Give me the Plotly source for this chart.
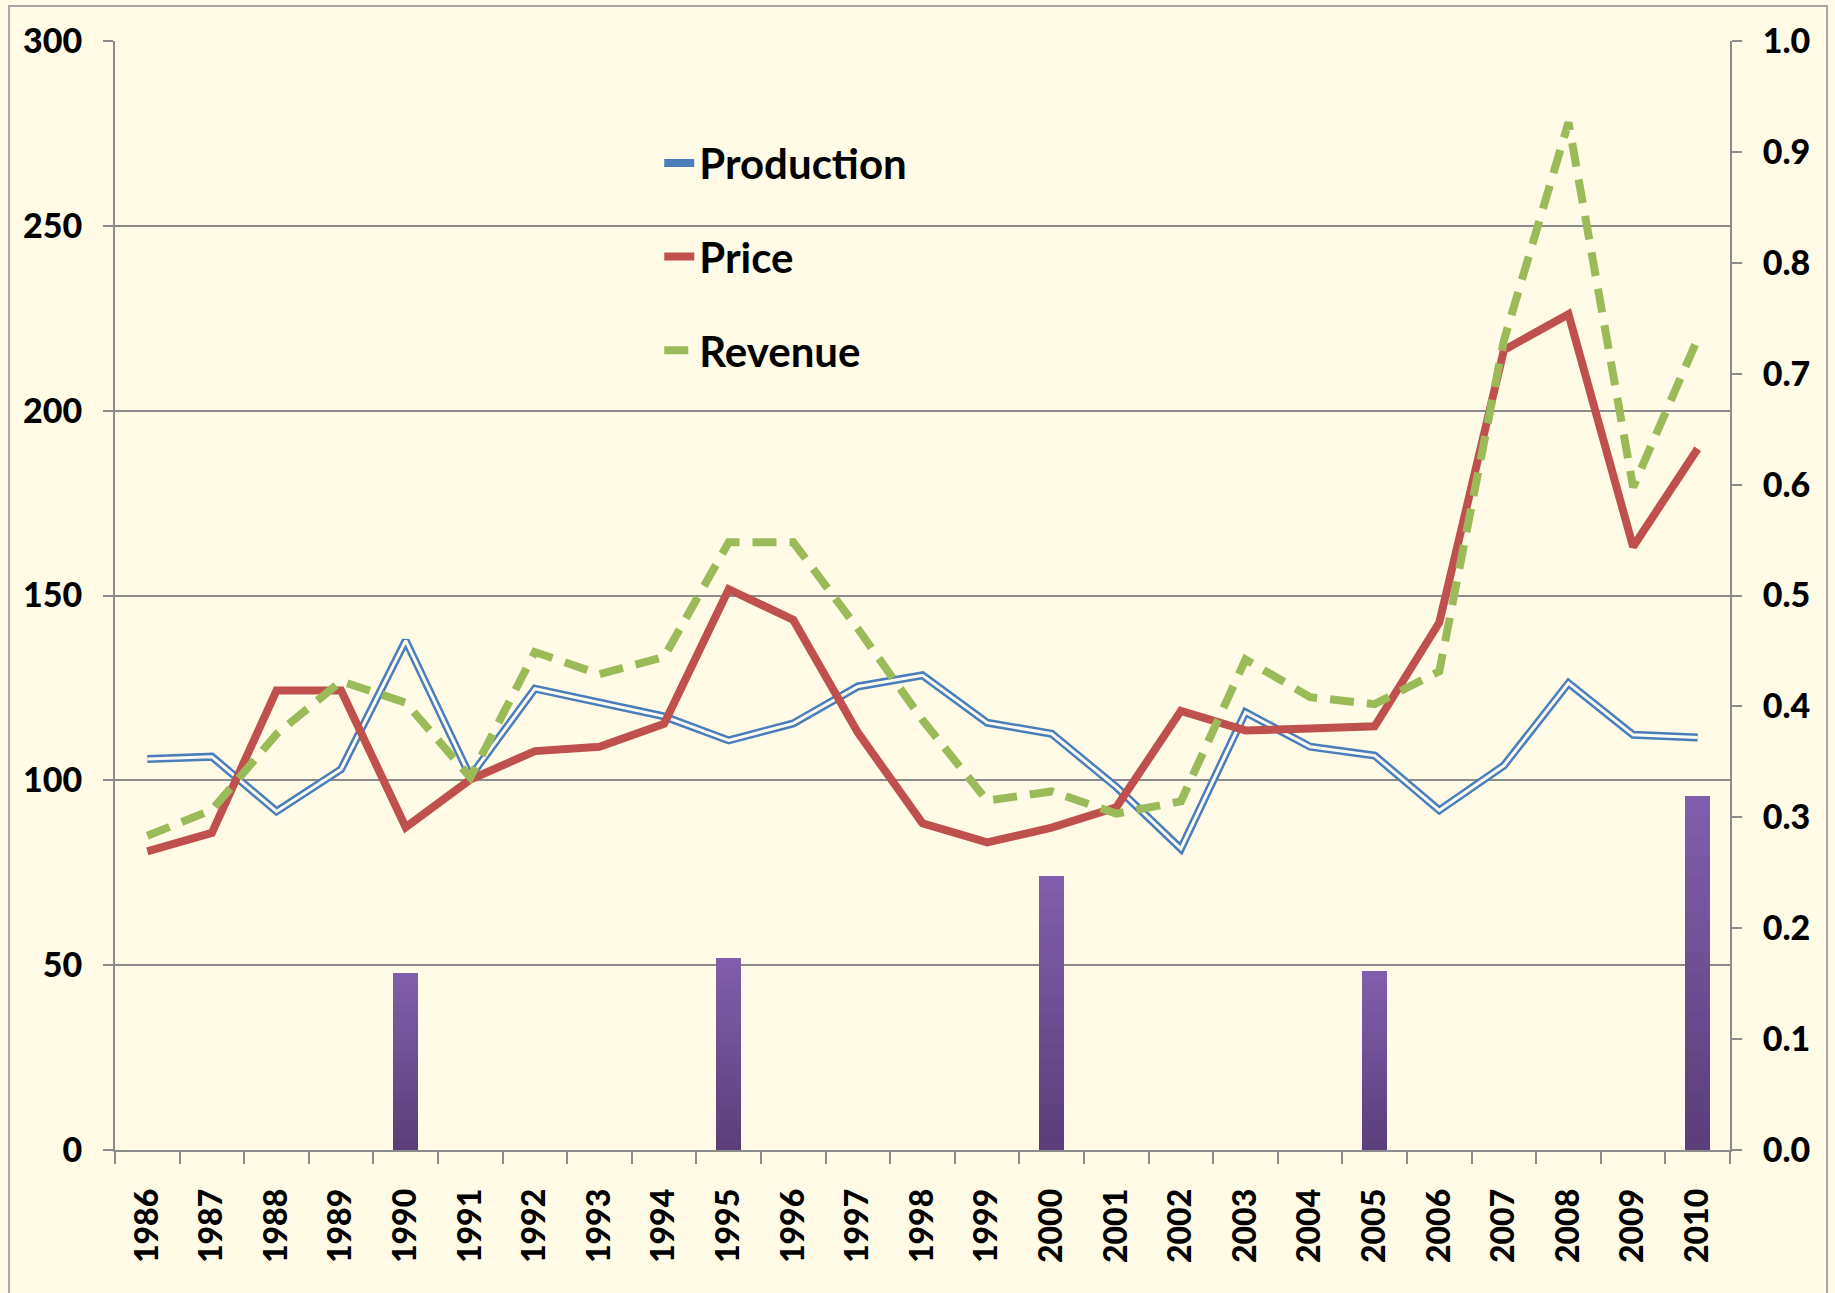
import plotly.graph_objects as go

years = [str(y) for y in range(1986, 2011)]
production = [105.8, 106.4, 91.6, 103.0, 137.8, 101.0, 124.8, 121.0, 117.3, 110.8,
              115.4, 125.4, 128.4, 115.6, 112.6, 98.2, 81.5, 118.4, 109.1, 106.7,
              91.9, 104.0, 126.3, 112.3, 111.6]
price = [80.8, 85.8, 124.3, 124.3, 87.3, 100.2, 107.9, 109.1, 115.3, 151.7,
         143.4, 112.9, 88.4, 83.2, 87.2, 92.7, 118.8, 113.5, 114.0, 114.6,
         142.7, 216.4, 226.1, 163.2, 189.7]
revenue = [85.0, 92.0, 112.5, 126.8, 121.0, 100.8, 134.7, 128.7, 133.4, 164.4,
           164.4, 141.0, 116.3, 94.5, 97.0, 91.0, 94.3, 132.7, 122.5, 120.6,
           129.5, 219.0, 278.0, 179.3, 219.5]
bar_years = ["1990", "1995", "2000", "2005", "2010"]
bar_values = [0.160, 0.173, 0.247, 0.161, 0.319]

BG = "#FFFBE6"
GRID = "#8C8C8C"
FONT = dict(family="Lato, Open Sans, sans-serif", size=34, color="#000000", weight=900)
XFONT = dict(family="Lato, Open Sans, sans-serif", size=32, color="#000000", weight=900)

fig = go.Figure()

# vertical gradient on bars (light top -> dark bottom), built by overlaying
# progressively shorter bars of the same data
top_rgb = (0x80, 0x5E, 0xAB)
bot_rgb = (0x5B, 0x3E, 0x7A)
N = 18
for k in range(N):
    frac = (N - k) / N
    t = k / (N - 1)
    c = tuple(round(top_rgb[i] + (bot_rgb[i] - top_rgb[i]) * t) for i in range(3))
    fig.add_trace(go.Bar(x=bar_years, y=[v * frac for v in bar_values], yaxis="y2",
                         width=0.39, marker=dict(color="rgb(%d,%d,%d)" % c, line=dict(width=0)),
                         showlegend=False, hoverinfo="skip" if k else None))

fig.add_trace(go.Scatter(x=years, y=production, mode="lines", name="Production",
                         legendgroup="a",
                         line=dict(color="#4A7EBB", width=8)))
fig.add_trace(go.Scatter(x=years, y=production, mode="lines", name="Production",
                         legendgroup="a", showlegend=False, hoverinfo="skip",
                         line=dict(color="#FFFDF2", width=3)))
fig.add_trace(go.Scatter(x=years, y=price, mode="lines", name="Price",
                         legendgroup="b",
                         line=dict(color="#C0504D", width=8)))
fig.add_trace(go.Scatter(x=years, y=revenue, mode="lines", name="Revenue",
                         legendgroup="c",
                         line=dict(color="#9BBB59", width=8, dash="24px,13px")))

fig.update_layout(
    width=1835, height=1293,
    margin=dict(l=115, r=105, t=41, b=143, autoexpand=False),
    paper_bgcolor=BG, plot_bgcolor=BG,
    font=FONT,
    barmode="overlay",
    bargap=0,
    xaxis=dict(type="category", categoryorder="array", categoryarray=years,
               tickson="boundaries", ticks="outside", ticklen=12, tickwidth=2,
               tickcolor=GRID, showline=True, linecolor=GRID, linewidth=2,
               showgrid=False, tickangle=-90, tickfont=XFONT, range=[-0.5, 24.5],
               ticklabelstandoff=24, automargin=False),
    yaxis=dict(range=[0, 300], tickvals=[0, 50, 100, 150, 200, 250, 300],
               showgrid=True, gridcolor=GRID, gridwidth=2,
               ticks="outside", ticklen=10, tickwidth=2, tickcolor=GRID,
               showline=True, linecolor=GRID, linewidth=2, zeroline=False,
               tickfont=FONT, ticklabelstandoff=14, automargin=False),
    yaxis2=dict(range=[0, 1], overlaying="y", side="right",
                tickvals=[i / 10 for i in range(11)], tickformat=".1f",
                showgrid=False, ticks="outside", ticklen=10, tickwidth=2,
                tickcolor=GRID, showline=True, linecolor=GRID, linewidth=2,
                zeroline=False, tickfont=FONT, ticklabelstandoff=14, automargin=False),
    legend=dict(x=0.337, y=0.9205, xanchor="left", yanchor="top",
                bgcolor="rgba(0,0,0,0)", traceorder="grouped", tracegroupgap=36,
                font=dict(family="Lato, Open Sans, sans-serif", size=42,
                          color="#000000", weight=700),
                itemwidth=30),
    shapes=[dict(type="rect", xref="paper", yref="paper",
                 x0=-0.0656, x1=1.0601, y0=-0.3, y1=1.0316,
                 line=dict(color="#A6A6A6", width=2), layer="below")],
)

fig.write_html("out.html", config={"displayModeBar": False},
               post_script="document.body.style.margin='0';document.body.style.background='#FFFBE6';")
